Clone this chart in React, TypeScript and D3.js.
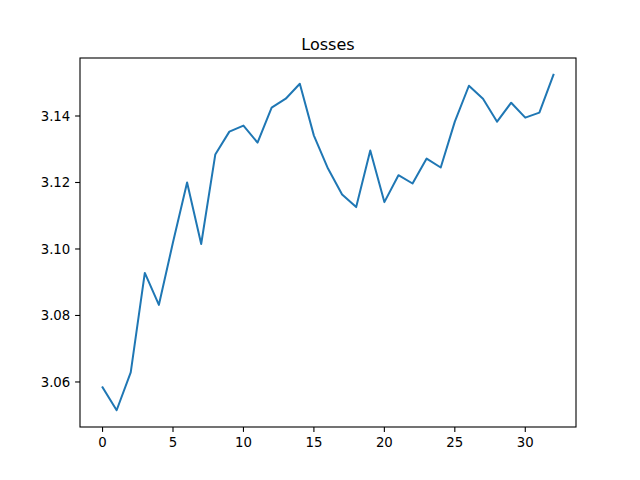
import React from "react";
import * as d3 from "d3";

const losses = [3.0584, 3.0515, 3.0629, 3.0928, 3.0832, 3.102, 3.12, 3.1015, 3.1284, 3.1353, 3.1371, 3.132, 3.1425, 3.1452, 3.1497, 3.1341, 3.1242, 3.1164, 3.1126, 3.1296, 3.1141, 3.1222, 3.1197, 3.1272, 3.1245, 3.1383, 3.1491, 3.1452, 3.1383, 3.144, 3.1395, 3.141, 3.1524];
const xTicks = [0, 5, 10, 15, 20, 25, 30];
const yTicks = [3.06, 3.08, 3.1, 3.12, 3.14];

export default function App() {
  const L = 80, R = 576, T = 58, B = 427;
  const n = losses.length;
  const xPad = (n - 1) * 0.05;
  const x = d3.scaleLinear().domain([-xPad, n - 1 + xPad]).range([L, R]);
  const mn = d3.min(losses)!, mx = d3.max(losses)!;
  const yPad = (mx - mn) * 0.05;
  const y = d3.scaleLinear().domain([mn - yPad, mx + yPad]).range([B, T]);
  const line = d3.line<number>().x((_, i) => x(i)).y((d) => y(d));
  const font = "DejaVu Sans";
  return (
    <svg width={640} height={480} style={{ position: "absolute", left: 0, top: 0, background: "#fff" }} fontFamily={font}>
      <rect x={0} y={0} width={640} height={480} fill="#fff" />
      <path d={line(losses)!} fill="none" stroke="#1f77b4" strokeWidth={2} strokeLinejoin="round" strokeLinecap="square" />
      <rect x={L} y={T} width={R - L} height={B - T} fill="none" stroke="#000" strokeWidth={1.1} />
      {xTicks.map((t) => (
        <g key={t}>
          <line x1={x(t)} x2={x(t)} y1={B} y2={B + 4.9} stroke="#000" strokeWidth={1.1} />
          <text x={x(t)} y={B + 20} textAnchor="middle" fontSize={13.3} fill="#000">{t}</text>
        </g>
      ))}
      {yTicks.map((t) => (
        <g key={t}>
          <line x1={L - 4.9} x2={L} y1={y(t)} y2={y(t)} stroke="#000" strokeWidth={1.1} />
          <text x={L - 9.7} y={y(t) + 4.8} textAnchor="end" fontSize={13.3} fill="#000">{t.toFixed(2)}</text>
        </g>
      ))}
      <text x={(L + R) / 2} y={T - 8} textAnchor="middle" fontSize={16} fill="#000">Losses</text>
    </svg>
  );
}
